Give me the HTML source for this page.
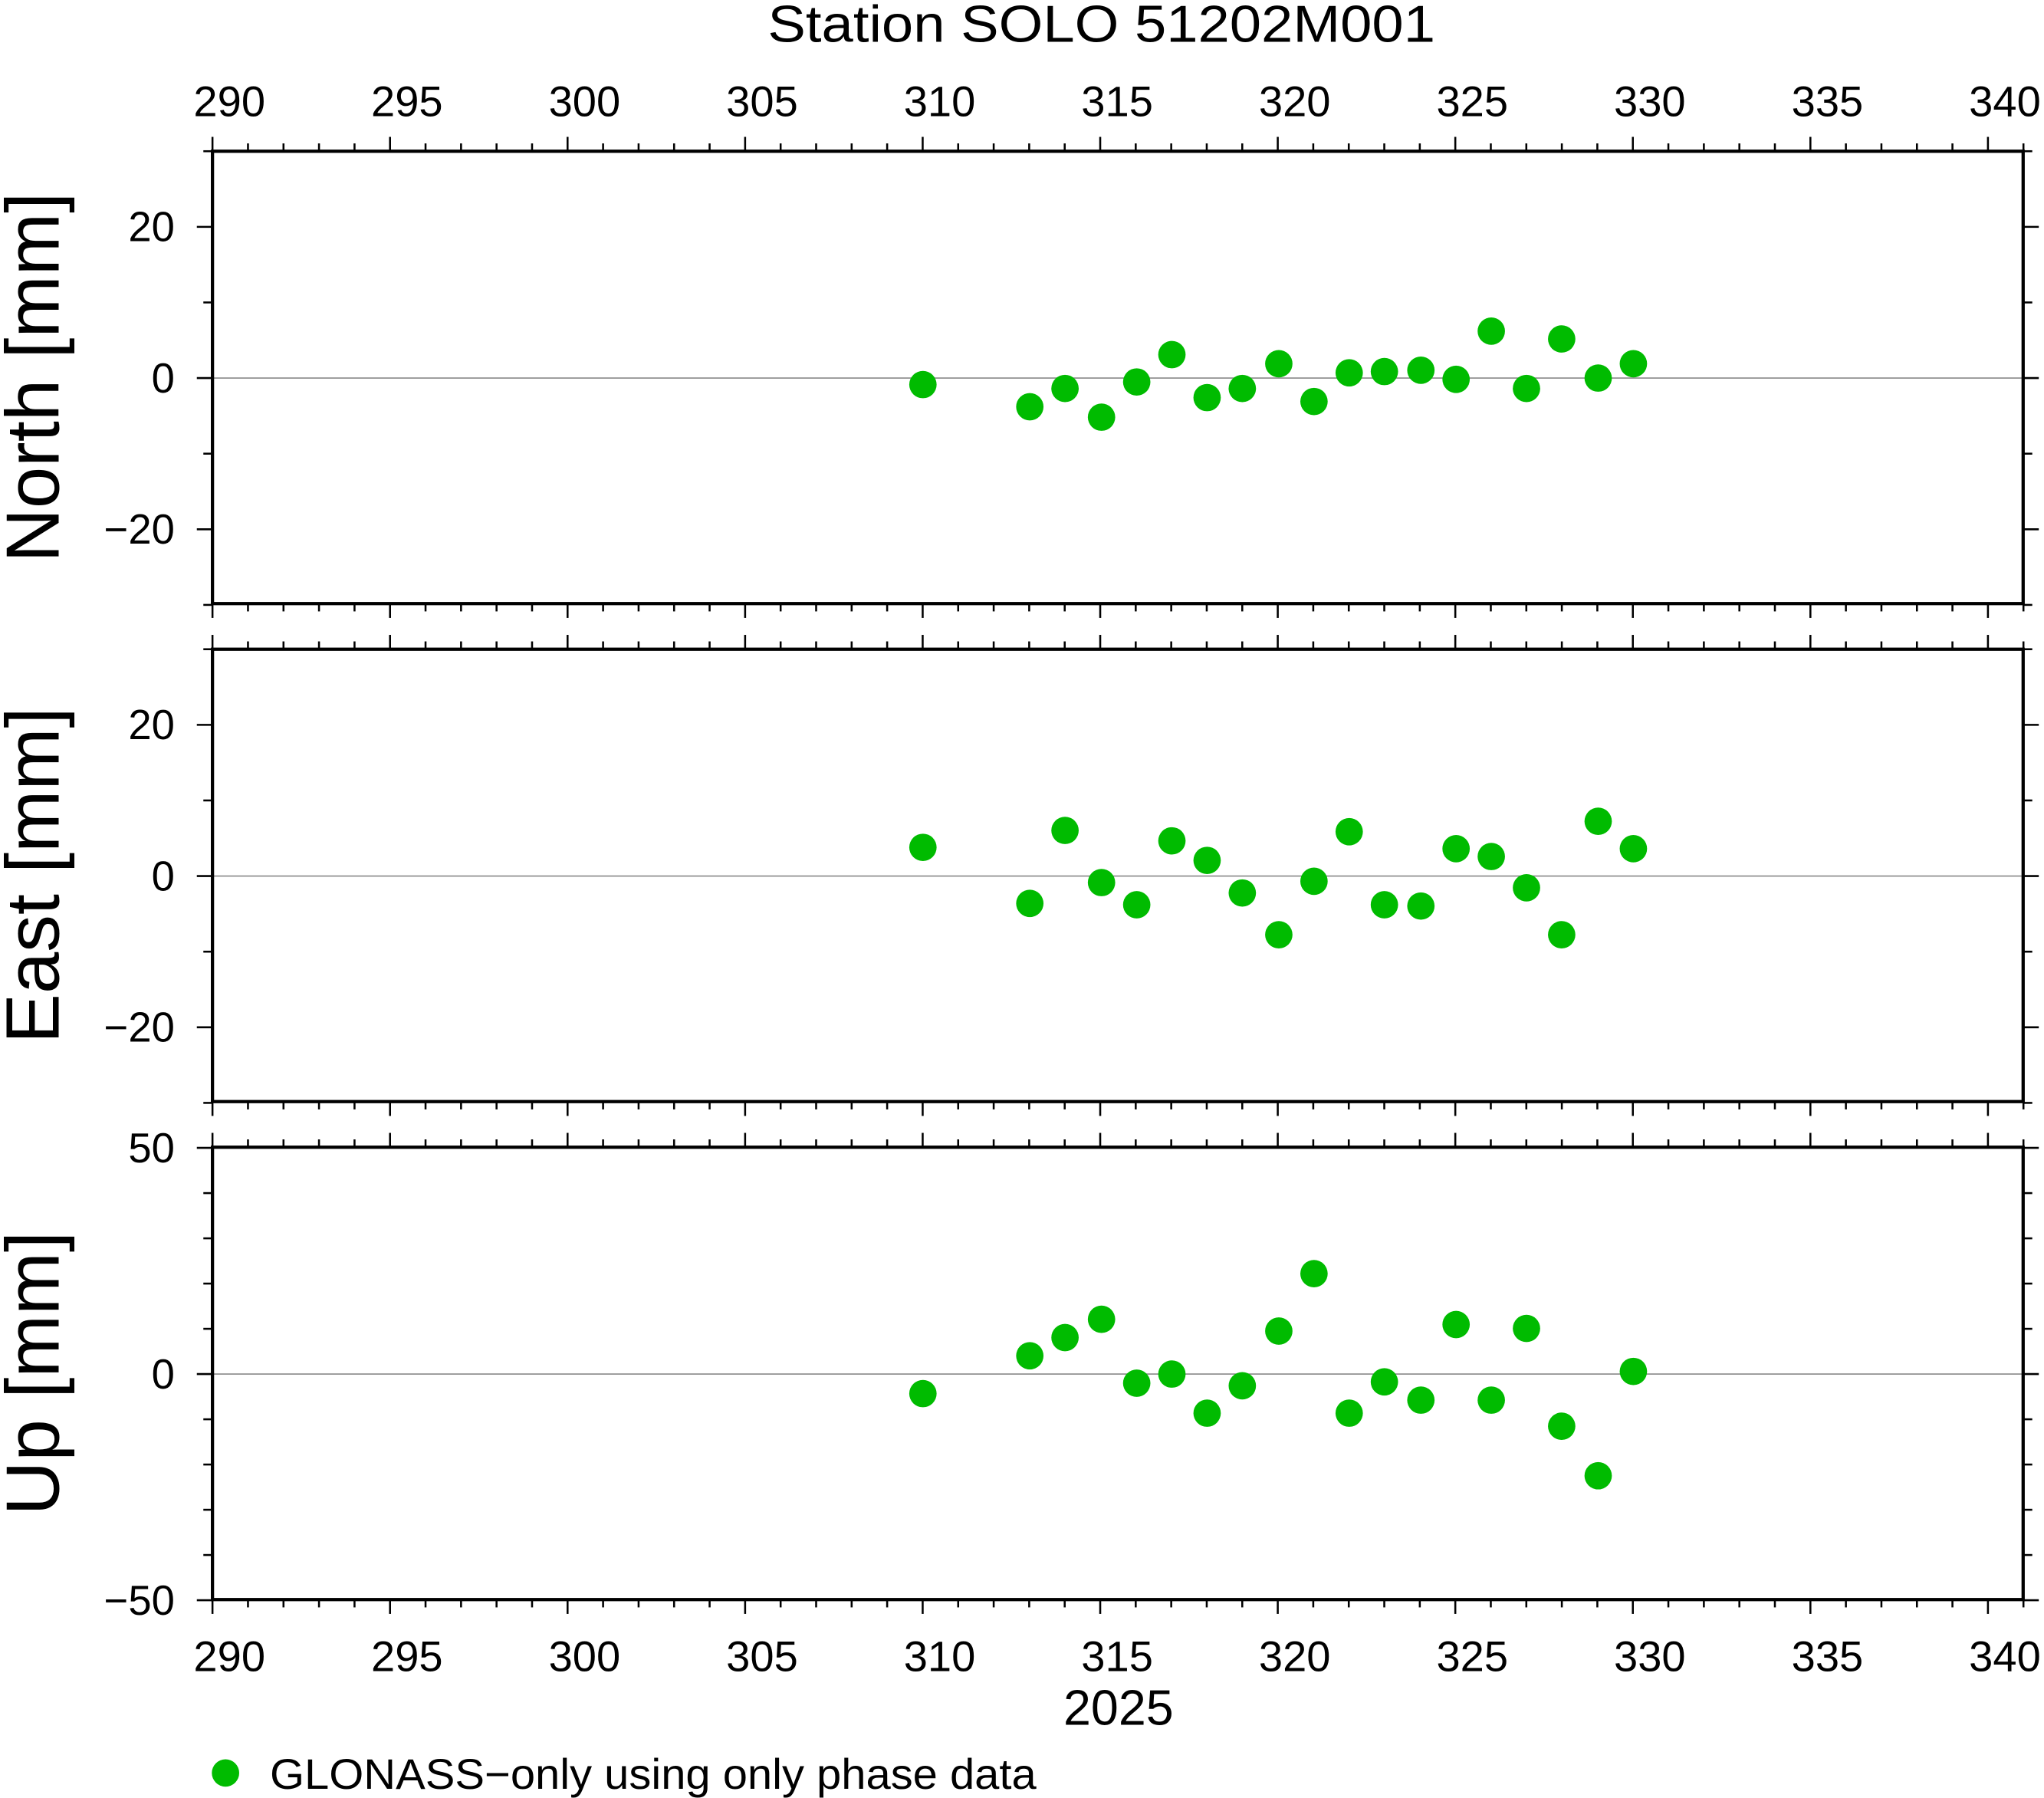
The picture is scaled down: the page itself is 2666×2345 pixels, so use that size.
<!DOCTYPE html>
<html><head><style>html,body{margin:0;padding:0;background:#fff}svg{display:block}</style></head>
<body>
<svg xmlns="http://www.w3.org/2000/svg" width="2666" height="2345" viewBox="0 0 1568 1379.2" preserveAspectRatio="none" font-family="Liberation Sans, sans-serif">
<rect width="1568" height="1380" fill="#fff"/>
<text x="845" y="32" font-size="40" text-anchor="middle" textLength="512" lengthAdjust="spacingAndGlyphs">Station SOLO 51202M001</text>
<g id="all"></g>
<script>
const NS="http://www.w3.org/2000/svg";const g=document.getElementById("all");
function el(t,a,txt){const e=document.createElementNS(NS,t);for(const k in a)e.setAttribute(k,a[k]);if(txt!==undefined)e.textContent=txt;g.appendChild(e);return e;}
const X=d=>163+(d-290)*27.24;
const panels=[
 {t:116,b:463,z:290,s:5.8,lab:"North [mm]",len:284,maj:[20,0,-20],min:[30,10,-10,-30],pts:[[708,295],[790,312],[817,298],[845,320],[872,293],[899,272],[926,305],[953,298],[981,279],[1008,308],[1035,286],[1062,285],[1090,284],[1117,291],[1144,254],[1171,298],[1198,260],[1226,290],[1253,279]]},
 {t:498,b:845,z:672,s:5.8,lab:"East [mm]",len:258,maj:[20,0,-20],min:[30,10,-10,-30],pts:[[708,650],[790,693],[817,637],[845,677],[872,694],[899,645],[926,660],[953,685],[981,717],[1008,676],[1035,638],[1062,694],[1090,695],[1117,651],[1144,657],[1171,681],[1198,717],[1226,630],[1253,651]]},
 {t:880,b:1227,z:1054,s:3.47,lab:"Up [mm]",len:218,maj:[50,0,-50],min:[40,30,20,10,-10,-20,-30,-40],pts:[[708,1069],[790,1040],[817,1026],[845,1012],[872,1061],[899,1054],[926,1084],[953,1063],[981,1021],[1008,977],[1035,1084],[1062,1060],[1090,1074],[1117,1016],[1144,1074],[1171,1019],[1198,1094],[1226,1132],[1253,1052]]}
];
panels.forEach((p,i)=>{
 el("line",{x1:163,x2:1552,y1:p.z,y2:p.z,stroke:"#888","stroke-width":1});
 p.maj.forEach(v=>{const y=p.z-v*p.s;el("line",{x1:151,x2:163,y1:y,y2:y,stroke:"#000","stroke-width":1.5});el("line",{x1:1552,x2:1564,y1:y,y2:y,stroke:"#000","stroke-width":1.5});
  el("text",{x:134,y:y+11,"font-size":32,"text-anchor":"end"},v<0?"\u2212"+(-v):""+v);});
 p.min.forEach(v=>{const y=p.z-v*p.s;el("line",{x1:156,x2:163,y1:y,y2:y,stroke:"#000","stroke-width":1.5});el("line",{x1:1552,x2:1559,y1:y,y2:y,stroke:"#000","stroke-width":1.5});});
 for(let d=290;d<=341;d++){const x=X(d);const L=(d%5==0)?11:6;
  el("line",{x1:x,x2:x,y1:p.t-L,y2:p.t,stroke:"#000","stroke-width":1.5});
  el("line",{x1:x,x2:x,y1:p.b,y2:p.b+L,stroke:"#000","stroke-width":1.5});}
 el("rect",{x:163,y:p.t,width:1389,height:p.b-p.t,fill:"none",stroke:"#000","stroke-width":2.5});
 const cy=(p.t+p.b)/2;
 el("text",{x:0,y:0,"font-size":58,"text-anchor":"middle",textLength:p.len,lengthAdjust:"spacingAndGlyphs",transform:`translate(45 ${cy}) rotate(-90)`},p.lab);
 p.pts.forEach(q=>el("circle",{cx:q[0],cy:q[1],r:10.5,fill:"#00bb00"}));
});
for(let d=290;d<=340;d+=5){const x=X(d)+13;
 el("text",{x:x,y:89,"font-size":33,"text-anchor":"middle"},""+d);
 el("text",{x:x,y:1282,"font-size":33,"text-anchor":"middle"},""+d);}
el("text",{x:858,y:1323,"font-size":38,"text-anchor":"middle"},"2025");
el("circle",{cx:173,cy:1360,r:10.5,fill:"#00bb00"});
el("text",{x:207,y:1372,"font-size":33,textLength:588,lengthAdjust:"spacingAndGlyphs"},"GLONASS\u2212only using only phase data");
</script>
</svg>
</body></html>
